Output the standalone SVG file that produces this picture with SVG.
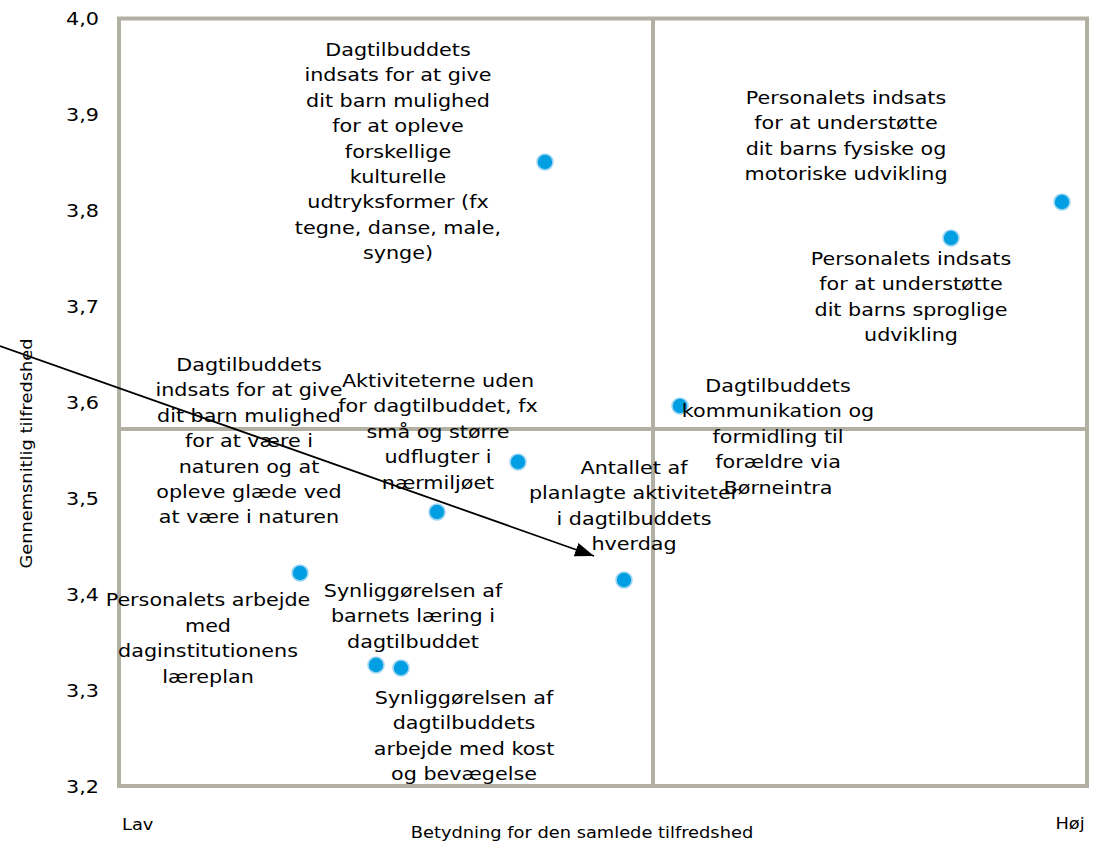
<svg xmlns="http://www.w3.org/2000/svg" width="1094" height="842" viewBox="0 0 1094 842">
<style>
text{font-family:"DejaVu Sans","Verdana","Liberation Sans",sans-serif;fill:#000}
.lbl{font-size:18px;text-anchor:middle}
.tick{font-size:18px;text-anchor:end}
.ax{font-size:15.5px}
.grid{stroke:#b2afa3;stroke-width:4;fill:none}
.dot{fill:#009ee2;stroke:#9fd6f2;stroke-width:1.6}
</style>
<defs>
<marker id="ah" markerUnits="userSpaceOnUse" markerWidth="20" markerHeight="16" refX="19" refY="7" orient="auto">
<path d="M0,0 L19,7 L0,14 z" fill="#000"/>
</marker>
</defs>
<rect width="1094" height="842" fill="#fff"/>
<g id="frame">
<rect class="grid" x="119" y="18.5" width="968" height="767.5"/>
<line class="grid" x1="653" y1="18.5" x2="653" y2="786"/>
<line class="grid" x1="119" y1="429" x2="1087" y2="429"/>
</g>
<g id="axis-ticks">
<text class="tick" transform="translate(99,25) scale(1.15,1)">4,0</text>
<text class="tick" transform="translate(99,121) scale(1.15,1)">3,9</text>
<text class="tick" transform="translate(99,217) scale(1.15,1)">3,8</text>
<text class="tick" transform="translate(99,313) scale(1.15,1)">3,7</text>
<text class="tick" transform="translate(99,409) scale(1.15,1)">3,6</text>
<text class="tick" transform="translate(99,505) scale(1.15,1)">3,5</text>
<text class="tick" transform="translate(99,601) scale(1.15,1)">3,4</text>
<text class="tick" transform="translate(99,697) scale(1.15,1)">3,3</text>
<text class="tick" transform="translate(99,793) scale(1.15,1)">3,2</text>
</g>
<g id="axis-labels">
<text class="ax" transform="translate(122,830) scale(1.15,1)">Lav</text>
<text class="ax" text-anchor="middle" transform="translate(1070,829) scale(1.15,1)">Høj</text>
<text class="ax" text-anchor="middle" transform="translate(582,838) scale(1.15,1)">Betydning for den samlede tilfredshed</text>
<text class="ax" text-anchor="middle" transform="translate(32,453.5) rotate(-90) scale(1.15,1)">Gennemsnitlig tilfredshed</text>
</g>
<g id="connectors">
<line x1="0" y1="346" x2="594" y2="556" stroke="#000" stroke-width="1.8" marker-end="url(#ah)"/>
</g>
<g id="n-kultur">
<circle class="dot" cx="545" cy="162" r="8"/>
<text class="lbl" transform="translate(398,0) scale(1.15,1)"><tspan x="0" y="56">Dagtilbuddets</tspan><tspan x="0" dy="25.4">indsats for at give</tspan><tspan x="0" dy="25.4">dit barn mulighed</tspan><tspan x="0" dy="25.4">for at opleve</tspan><tspan x="0" dy="25.4">forskellige</tspan><tspan x="0" dy="25.4">kulturelle</tspan><tspan x="0" dy="25.4">udtryksformer (fx</tspan><tspan x="0" dy="25.4">tegne, danse, male,</tspan><tspan x="0" dy="25.4">synge)</tspan></text>
</g>
<g id="n-motorik">
<circle class="dot" cx="1062" cy="202" r="8"/>
<text class="lbl" transform="translate(846,0) scale(1.15,1)"><tspan x="0" y="104">Personalets indsats</tspan><tspan x="0" dy="25.4">for at understøtte</tspan><tspan x="0" dy="25.4">dit barns fysiske og</tspan><tspan x="0" dy="25.4">motoriske udvikling</tspan></text>
</g>
<g id="n-sprog">
<circle class="dot" cx="951" cy="238" r="8"/>
<text class="lbl" transform="translate(911,0) scale(1.15,1)"><tspan x="0" y="265">Personalets indsats</tspan><tspan x="0" dy="25.4">for at understøtte</tspan><tspan x="0" dy="25.4">dit barns sproglige</tspan><tspan x="0" dy="25.4">udvikling</tspan></text>
</g>
<g id="n-kommunikation">
<circle class="dot" cx="680" cy="406" r="8"/>
<text class="lbl" transform="translate(778,0) scale(1.15,1)"><tspan x="0" y="392">Dagtilbuddets</tspan><tspan x="0" dy="25.4">kommunikation og</tspan><tspan x="0" dy="25.4">formidling til</tspan><tspan x="0" dy="25.4">forældre via</tspan><tspan x="0" dy="25.4">Børneintra</tspan></text>
</g>
<g id="n-aktiviteter-uden">
<circle class="dot" cx="518" cy="462" r="8"/>
<text class="lbl" transform="translate(438,0) scale(1.15,1)"><tspan x="0" y="387">Aktiviteterne uden</tspan><tspan x="0" dy="25.4">for dagtilbuddet, fx</tspan><tspan x="0" dy="25.4">små og større</tspan><tspan x="0" dy="25.4">udflugter i</tspan><tspan x="0" dy="25.4">nærmiljøet</tspan></text>
</g>
<g id="n-natur">
<circle class="dot" cx="437" cy="512" r="8"/>
<text class="lbl" transform="translate(249,0) scale(1.15,1)"><tspan x="0" y="371">Dagtilbuddets</tspan><tspan x="0" dy="25.4">indsats for at give</tspan><tspan x="0" dy="25.4">dit barn mulighed</tspan><tspan x="0" dy="25.4">for at være i</tspan><tspan x="0" dy="25.4">naturen og at</tspan><tspan x="0" dy="25.4">opleve glæde ved</tspan><tspan x="0" dy="25.4">at være i naturen</tspan></text>
</g>
<g id="n-planlagte">
<circle class="dot" cx="624" cy="580" r="8"/>
<text class="lbl" transform="translate(634,0) scale(1.15,1)"><tspan x="0" y="474">Antallet af</tspan><tspan x="0" dy="25.4">planlagte aktiviteter</tspan><tspan x="0" dy="25.4">i dagtilbuddets</tspan><tspan x="0" dy="25.4">hverdag</tspan></text>
</g>
<g id="n-laereplan">
<circle class="dot" cx="300" cy="573" r="8"/>
<text class="lbl" transform="translate(208,0) scale(1.15,1)"><tspan x="0" y="606">Personalets arbejde</tspan><tspan x="0" dy="25.6">med</tspan><tspan x="0" dy="25.6">daginstitutionens</tspan><tspan x="0" dy="25.6">læreplan</tspan></text>
</g>
<g id="n-laering">
<circle class="dot" cx="376" cy="665" r="8"/>
<text class="lbl" transform="translate(413,0) scale(1.15,1)"><tspan x="0" y="597">Synliggørelsen af</tspan><tspan x="0" dy="25.4">barnets læring i</tspan><tspan x="0" dy="25.4">dagtilbuddet</tspan></text>
</g>
<g id="n-kost">
<circle class="dot" cx="401" cy="668" r="8"/>
<text class="lbl" transform="translate(464,0) scale(1.15,1)"><tspan x="0" y="704">Synliggørelsen af</tspan><tspan x="0" dy="25.4">dagtilbuddets</tspan><tspan x="0" dy="25.4">arbejde med kost</tspan><tspan x="0" dy="25.4">og bevægelse</tspan></text>
</g>
</svg>
